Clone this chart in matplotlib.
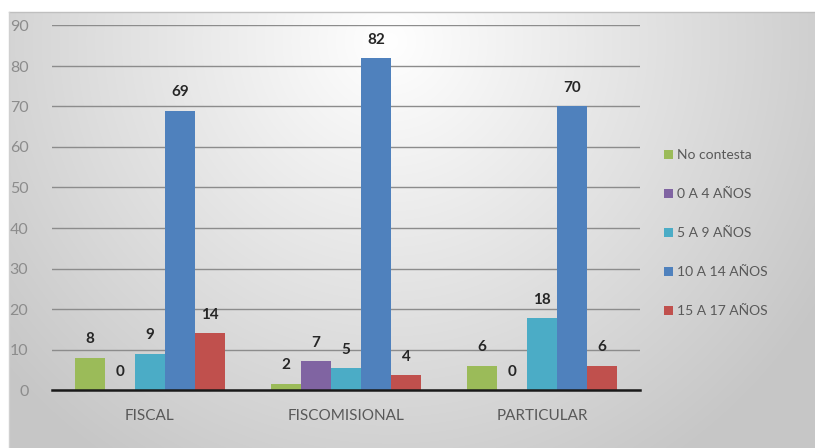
import numpy as np
import matplotlib.pyplot as plt

categorias = ["FISCAL", "FISCOMISIONAL", "PARTICULAR"]
series = ["No contesta", "0 A 4 AÑOS", "5 A 9 AÑOS", "10 A 14 AÑOS", "15 A 17 AÑOS"]
no_contesta = [8, 1.6, 6]
edad_0_4 = [0, 7.2, 0]
edad_5_9 = [9, 5.4, 17.8]
edad_10_14 = [69, 82, 70]
edad_15_17 = [14, 3.6, 6]
valores = [no_contesta, edad_0_4, edad_5_9, edad_10_14, edad_15_17]
colores = ["#9BBB59", "#8064A2", "#4BACC6", "#4F81BD", "#C0504D"]

plt.rcParams['font.family'] = ['Lato', 'DejaVu Sans']

W, H = 815, 448
fig = plt.figure(figsize=(W / 100, H / 100), dpi=100)

# fondo degradado radial
bg = fig.add_axes([9 / W, 0, 1 - 9 / W, 1 - 12 / H])
yy, xx = np.mgrid[0:436, 0:806]
d = np.sqrt(((xx - 380) / 500.0) ** 2 + ((yy - 30) / 500.0) ** 2)
g = np.clip(1.0 - 0.22 * d, 0.78, 1.0)
bg.imshow(np.dstack([g, g, g]), aspect='auto', extent=[0, 1, 0, 1], origin='upper')
bg.set_axis_off()
fig.add_artist(plt.Line2D([9 / W, 1], [1 - 12 / H, 1 - 12 / H], color="#bfbfbf", lw=1))
fig.add_artist(plt.Line2D([9 / W, 9 / W], [0, 1 - 12 / H], color="#d0d0d0", lw=1))

ax = fig.add_axes([52 / W, 1 - 390 / H, 588 / W, 364.5 / H])
ax.patch.set_alpha(0)

x = np.arange(len(categorias))
ancho = 0.153
for i, (vals, col, nom) in enumerate(zip(valores, colores, series)):
    pos = x + (i - 2) * ancho
    barras = ax.bar(pos, vals, ancho, color=col, label=nom, zorder=3)
    for b, v in zip(barras, vals):
        ax.text(b.get_x() + b.get_width() / 2, v + 2.8, "%d" % round(v),
                ha='center', va='bottom', fontsize=11, fontweight='bold',
                color="#262626", zorder=4)

ax.set_xlim(-0.5, 2.5)
ax.set_ylim(0, 90)
ax.set_yticks(range(0, 91, 10))
ax.yaxis.grid(True, color="#8c8c8c", lw=1, zorder=0)
ax.set_xticks(x)
ax.set_xticklabels(categorias)
ax.tick_params(axis='both', length=0, labelsize=11.5, colors="#8c8c8c")
ax.tick_params(axis='x', pad=14, colors="#595959", labelsize=11)
ax.tick_params(axis='y', pad=17)
for s in ["top", "right", "left"]:
    ax.spines[s].set_visible(False)
ax.spines["bottom"].set_color("#1a1a1a")
ax.spines["bottom"].set_linewidth(1.8)
ax.spines["bottom"].set_zorder(5)

leg = ax.legend(loc='center left', bbox_to_anchor=(1.02, 0.43), frameon=False,
                fontsize=10, handlelength=0.6, handleheight=0.6,
                handletextpad=0.3, labelspacing=1.95)
for t in leg.get_texts():
    t.set_color("#595959")

fig.savefig("out.png", dpi=100)
